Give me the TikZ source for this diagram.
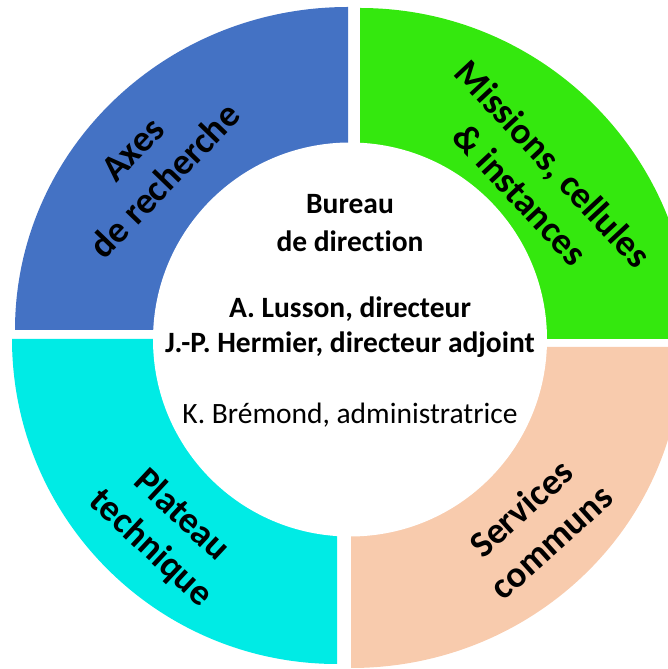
\documentclass[tikz,border=0pt]{standalone}
\usepackage{fontspec}
\setmainfont{Carlito}[Ligatures=NoCommon]
\definecolor{cblue}{HTML}{4472C4}
\definecolor{cgreen}{HTML}{34E80E}
\definecolor{ccyan}{HTML}{00EBE5}
\definecolor{cpeach}{HTML}{F8CBAD}
\begin{document}
\begin{tikzpicture}[x=1pt,y=1pt,
  seglabel/.style={align=center,font=\fontsize{37}{45}\selectfont\bfseries,inner sep=0pt},
  midbold/.style={anchor=base,font=\fontsize{29.5}{35}\selectfont\bfseries,inner sep=0pt},
  midreg/.style={anchor=base,font=\fontsize{29.5}{35}\selectfont,inner sep=0pt}]
\useasboundingbox (0,0) rectangle (668,669);
\begin{scope}
\clip (0,0) rectangle (668,669);
% slices
\fill[cblue] (348,339) -- (348,662) arc[start angle=90,end angle=180,x radius=333,y radius=323] -- cycle;
\fill[cgreen] (360,330) -- (691,330) arc[start angle=0,end angle=90,radius=331] -- cycle;
\fill[ccyan] (337,330) -- (12,330) arc[start angle=180,end angle=270,radius=325] -- cycle;
\fill[cpeach] (351,322) -- (351,1) arc[start angle=270,end angle=360,x radius=331,y radius=321] -- cycle;
% hole
\fill[white] (350,329.5) circle[radius=197];
\end{scope}
% segment labels
\node[seglabel,rotate=46] (axes) at (149,504) {Axes\\de recherche};
\node[seglabel,rotate=-47] (missions) at (537,490) {Missions, cellules\\\& instances};
\node[seglabel,rotate=-43] (plateau) at (166,137) {Plateau\\technique};
\node[seglabel,rotate=42] (services) at (536,144) {Services\\communs};
% centre
\node[midbold] (bureau) at (350,455) {Bureau};
\node[midbold] (direction) at (350,417) {de direction};
\node[midbold] (lusson) at (350,351) {A. Lusson, directeur};
\node[midbold] (hermier) at (350,316) {J.-P. Hermier, directeur adjoint};
\node[midreg] (bremond) at (350,245) {K. Brémond, administratrice};
\end{tikzpicture}
\end{document}
